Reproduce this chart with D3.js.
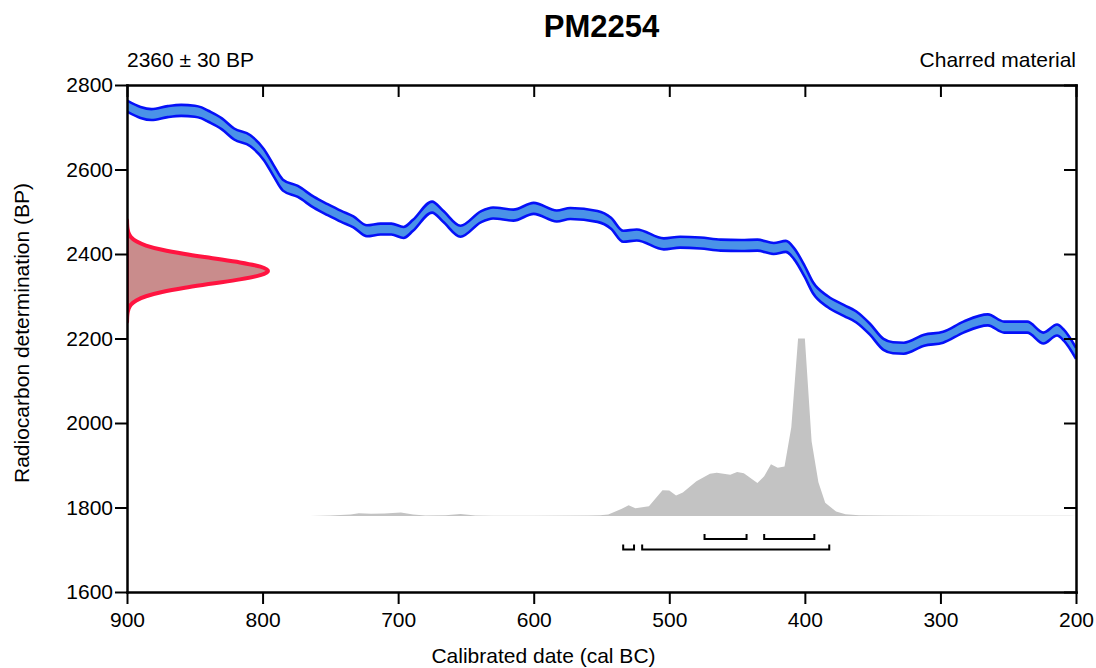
<!DOCTYPE html>
<html>
<head>
<meta charset="utf-8">
<script src="https://cdn.jsdelivr.net/npm/d3@7"></script>
<style>
  body { margin: 0; background: #fff; }
  svg text { font-family: "Liberation Sans", Arial, sans-serif; fill: #000; }
  .axis path, .axis line { stroke: #000; }
  .axis text { font-size: 21px; }
</style>
</head>
<body>
<div id="chart"></div>
<script>
// sample + date
var labName = "PM2254";
var dateText = "2360 \u00b1 30 BP";
var material = "Charred material";

// calibration curve (cal BC, BP)
var curveCal = [900, 890, 882, 870, 860, 850, 845, 840, 830, 821, 809, 799, 792, 785, 774, 762, 752, 742, 733, 723,
  713, 705, 696, 689, 675, 667, 654, 639, 630, 615, 600, 583, 573, 553, 543, 534, 524, 504, 492, 477,
  462, 447, 435, 423, 414, 408, 400, 394, 383, 371, 362, 352, 342, 335, 327, 312, 298, 283, 265, 253,
  236, 224, 214, 209, 200];
var curveBP = [2750, 2735, 2730, 2737, 2740, 2738, 2734, 2726, 2708, 2684, 2668, 2635, 2598, 2563, 2548, 2522, 2505, 2489, 2476, 2455,
  2459, 2459, 2451, 2468, 2511, 2490, 2454, 2488, 2497, 2492, 2508, 2490, 2496, 2489, 2473, 2442, 2445, 2424, 2428, 2426,
  2421, 2420, 2421, 2413, 2418, 2401, 2358, 2320, 2287, 2266, 2251, 2222, 2186, 2178, 2177, 2196, 2203, 2227, 2244, 2227,
  2227, 2201, 2220, 2208, 2165];
var curveErr = 13;

// radiocarbon measurement (BP, relative height)
var measBP = [2480, 2470, 2460, 2450, 2440, 2430, 2420, 2410, 2400, 2390, 2380, 2370, 2360,
  2350, 2340, 2330, 2320, 2310, 2300, 2290, 2280, 2270, 2260, 2250, 2240];
var measVal = [0.0003, 0.0012, 0.004, 0.011, 0.028, 0.066, 0.135, 0.249, 0.411, 0.607, 0.801, 0.946, 1,
  0.946, 0.801, 0.607, 0.411, 0.249, 0.135, 0.066, 0.028, 0.011, 0.004, 0.0012, 0.0003];

// calibrated probability (cal BC, relative height)
var probCal = [765, 750, 735, 729, 720, 710, 698, 689, 680, 665, 654, 643, 630, 600, 560, 551, 545, 535, 530, 525,
  515, 505, 500, 495, 490, 480, 470, 465, 455, 450, 445, 435, 430, 425, 420, 415, 410, 405, 400, 395,
  390, 385, 377, 370, 360, 340, 300, 250, 205, 200];
var probVal = [0, 0.002, 0.008, 0.015, 0.012, 0.014, 0.019, 0.008, 0.002, 0.004, 0.011, 0.003, 0.001, 0.001, 0.002, 0.004, 0.008, 0.04, 0.06, 0.043,
  0.055, 0.145, 0.143, 0.115, 0.132, 0.196, 0.238, 0.243, 0.232, 0.248, 0.241, 0.186, 0.224, 0.292, 0.272, 0.279, 0.5, 1.0, 1.0, 0.42,
  0.19, 0.075, 0.025, 0.01, 0.004, 0.002, 0.001, 0.001, 0.001, 0];

// ranges: 68.2% and 95.4%
var range68 = [[474, 443], [430, 393]];
var range95 = [[534, 526], [520, 382]];

var xTicks = [900, 800, 700, 600, 500, 400, 300, 200];
var yTicks = [1600, 1800, 2000, 2200, 2400, 2600, 2800];

var W = 1096, H = 668;
var margin = {top: 85, right: 20, bottom: 76, left: 127};
var width = 1076 - margin.left;
var height = 592 - margin.top;

var svg = d3.select("#chart").append("svg")
  .attr("width", W).attr("height", H);

var g = svg.append("g")
  .attr("transform", "translate(" + margin.left + "," + margin.top + ")");

var x = d3.scaleLinear().domain([900, 200]).range([0, width]);
var y = d3.scaleLinear().domain([1600, 2800]).range([height, 0]);

// probability heights
var py = d3.scaleLinear().domain([0, 1]).range([y(1780), y(2200)]);
// measurement widths
var mx = d3.scaleLinear().domain([0, 1]).range([0, 141]);

svg.append("defs").append("clipPath").attr("id", "plotclip")
  .append("rect").attr("width", width).attr("height", height);

var plot = g.append("g").attr("clip-path", "url(#plotclip)");

// calibrated distribution
var probData = probCal.map(function(c, i) { return {c: c, v: probVal[i]}; });
plot.append("path")
  .datum(probData)
  .attr("fill", "#c3c3c3")
  .attr("d", d3.area()
    .x(function(d) { return x(d.c); })
    .y0(py(0))
    .y1(function(d) { return py(d.v); }));

// calibration curve band
var calData = curveCal.map(function(c, i) { return {c: c, bp: curveBP[i]}; });
plot.append("path")
  .datum(calData)
  .attr("fill", "#4a92e8")
  .attr("d", d3.area().curve(d3.curveMonotoneX)
    .x(function(d) { return x(d.c); })
    .y0(function(d) { return y(d.bp - curveErr); })
    .y1(function(d) { return y(d.bp + curveErr); }));
[curveErr, -curveErr].forEach(function(e) {
  plot.append("path")
    .datum(calData)
    .attr("fill", "none")
    .attr("stroke", "#0510f8")
    .attr("stroke-width", 2.6)
    .attr("d", d3.line().curve(d3.curveMonotoneX)
      .x(function(d) { return x(d.c); })
      .y(function(d) { return y(d.bp + e); }));
});

// measurement on the y axis
var measData = measBP.map(function(b, i) { return {bp: b, v: measVal[i]}; });
var measArea = d3.area().curve(d3.curveMonotoneY)
  .y(function(d) { return y(d.bp); })
  .x0(0)
  .x1(function(d) { return mx(d.v); });
plot.append("path")
  .attr("fill", "#c98c8c")
  .attr("stroke", "#ff1440")
  .attr("stroke-width", 4)
  .attr("stroke-linejoin", "round")
  .attr("d", measArea(measData));

// range brackets
function brackets(ranges, yy) {
  ranges.forEach(function(r) {
    var x0 = x(r[0]), x1 = x(r[1]);
    g.append("path")
      .attr("fill", "none")
      .attr("stroke", "#000")
      .attr("stroke-width", 2)
      .attr("d", "M" + x0 + "," + (yy - 5) + "V" + yy + "H" + x1 + "V" + (yy - 5));
  });
}
brackets(range68, py(0) + 23);
brackets(range95, py(0) + 33.5);

// axes
g.append("g").attr("class", "axis")
  .attr("transform", "translate(0," + height + ")")
  .call(d3.axisBottom(x).tickValues(xTicks).tickSize(12).tickSizeOuter(0).tickPadding(8).tickFormat(d3.format("d")));
g.append("g").attr("class", "axis")
  .call(d3.axisBottom(x).tickValues(xTicks).tickSize(12).tickSizeOuter(0).tickFormat(""));
g.append("g").attr("class", "axis")
  .call(d3.axisLeft(y).tickValues(yTicks).tickSize(12).tickSizeOuter(0).tickPadding(2).tickFormat(d3.format("d")));
g.append("g").attr("class", "axis")
  .attr("transform", "translate(" + width + ",0)")
  .call(d3.axisLeft(y).tickValues(yTicks).tickSize(12).tickSizeOuter(0).tickFormat(""));

g.selectAll(".axis path").attr("stroke-width", 2.5).attr("stroke-linecap", "square");
g.selectAll(".axis line").attr("stroke-width", 2);
g.selectAll(".axis text").attr("fill", "#000");

// texts
svg.append("text")
  .attr("x", margin.left + width / 2).attr("y", 37)
  .attr("text-anchor", "middle")
  .style("font-size", "31px").style("font-weight", "bold")
  .text(labName);
svg.append("text")
  .attr("x", margin.left).attr("y", 67)
  .style("font-size", "21px")
  .text(dateText);
svg.append("text")
  .attr("x", margin.left + width).attr("y", 67)
  .attr("text-anchor", "end")
  .style("font-size", "21px")
  .text(material);
svg.append("text")
  .attr("x", margin.left + width / 2 - 58).attr("y", 663)
  .attr("text-anchor", "middle")
  .style("font-size", "21px")
  .text("Calibrated date (cal BC)");
svg.append("text")
  .attr("transform", "translate(29,333) rotate(-90)")
  .attr("text-anchor", "middle")
  .style("font-size", "21px")
  .text("Radiocarbon determination (BP)");
</script>
</body>
</html>
